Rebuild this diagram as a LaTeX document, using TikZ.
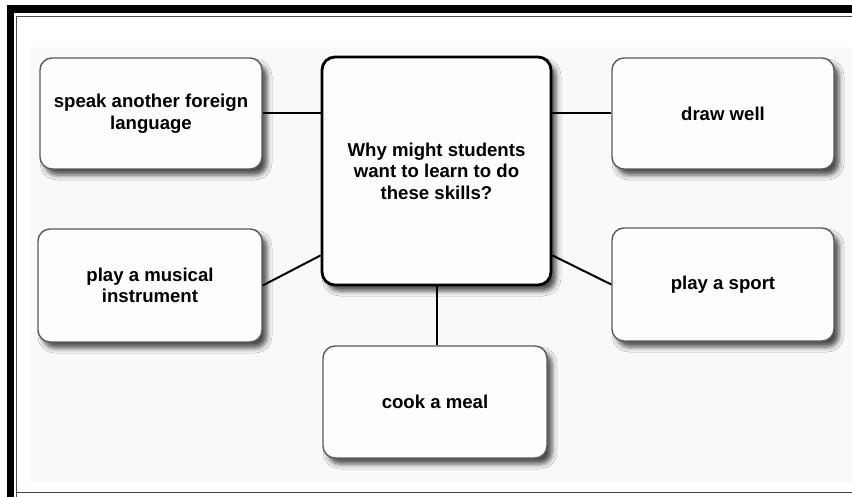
\documentclass[tikz,border=0pt]{standalone}
\usepackage{fontspec}
\setmainfont{Liberation Sans}
\usetikzlibrary{calc,shadows.blur}
\definecolor{panel}{HTML}{F9F9F9}
\definecolor{boxfill}{HTML}{FDFDFD}
\definecolor{edgegray}{HTML}{5A5A5A}
\tikzset{
  skill/.style={draw=edgegray, line width=1.4pt, fill=boxfill, rounded corners=12pt,
    align=center, font=\fontsize{18.6pt}{21.5pt}\selectfont\bfseries,
    blur shadow={shadow xshift=5pt, shadow yshift=-6pt, shadow blur radius=5pt, shadow opacity=70}},
  hub/.style={skill, draw=black, line width=2.8pt, rounded corners=13pt},
  link/.style={draw=black, line width=2pt}
}
\begin{document}
\begin{tikzpicture}[x=1pt,y=-1pt]
\useasboundingbox (0,0) rectangle (852,497);
\fill[white] (0,0) rectangle (852,497);
% frame
\fill[panel] (30,47) rectangle (852,482);
\fill[black] (7,5) rectangle (852,13);
\fill[black] (7,5) rectangle (14,497);
\draw[black!70, line width=1pt] (16.5,497) -- (16.5,17) -- (852,17);
\draw[black!75, line width=1.2pt] (16.5,492.5) -- (852,492.5);
% nodes
\node[hub, minimum width=229pt, minimum height=228pt] (C) at (436.5,171)
  {Why might students\\want to learn to do\\these skills?};
\node[skill, minimum width=222pt, minimum height=111pt] (TL) at (151,113.5)
  {speak another foreign\\language};
\node[skill, minimum width=222pt, minimum height=111pt] (TR) at (723,113.5)
  {draw well};
\node[skill, minimum width=224pt, minimum height=113pt] (ML) at (150,285.5)
  {play a musical\\instrument};
\node[skill, minimum width=222pt, minimum height=113pt] (MR) at (723,284.5)
  {play a sport};
\node[skill, minimum width=224pt, minimum height=112pt] (B) at (435,402)
  {cook a meal};
% connectors
\draw[link] (TL.east) -- (TL.east -| C.west);
\draw[link] (TR.west) -- (TR.west -| C.east);
\draw[link] (ML.east) -- ($(C.south west)+(0,-31)$);
\draw[link] (MR.west) -- ($(C.south east)+(0,-31)$);
\draw[link] (C.south) -- (C.south |- B.north);
\end{tikzpicture}
\end{document}
